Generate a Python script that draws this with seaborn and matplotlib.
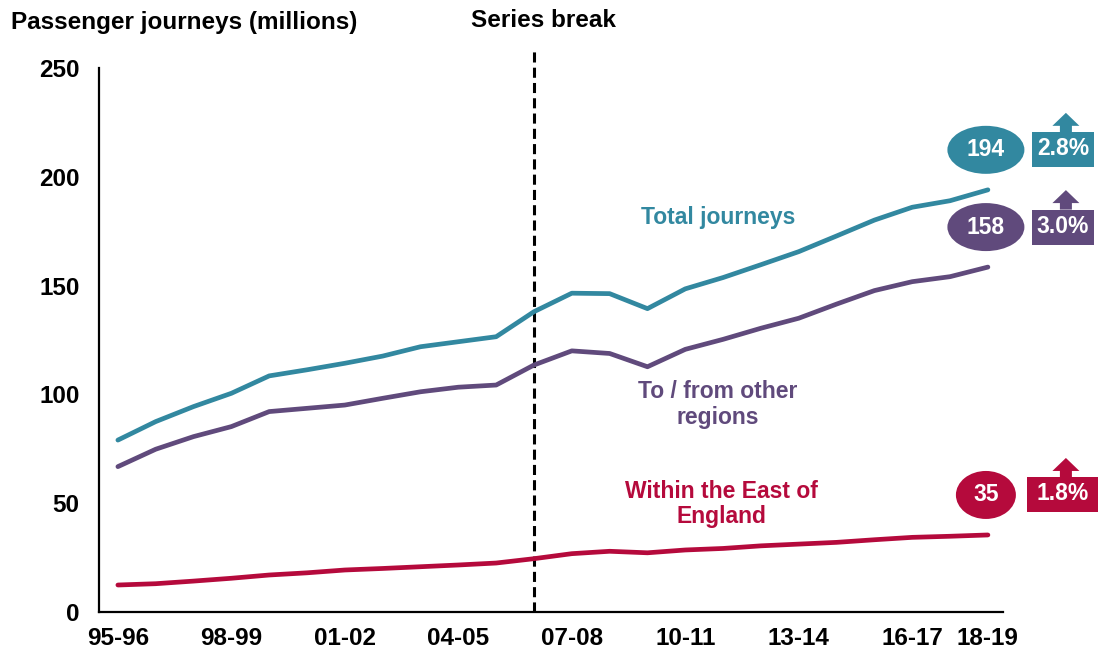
import matplotlib
matplotlib.use("Agg")
import matplotlib.pyplot as plt
import seaborn as sns
import pandas as pd
from matplotlib.patches import Ellipse, Rectangle, Polygon
from matplotlib.transforms import IdentityTransform

# --- data ---
years = ["95-96", "96-97", "97-98", "98-99", "99-00", "00-01", "01-02", "02-03",
         "03-04", "04-05", "05-06", "06-07", "07-08", "08-09", "09-10", "10-11",
         "11-12", "12-13", "13-14", "14-15", "15-16", "16-17", "17-18", "18-19"]
total_journeys = [79.0, 87.5, 94.4, 100.5, 108.5, 111.3, 114.3, 117.6, 121.9, 124.2,
                  126.5, 138.0, 146.5, 146.3, 139.4, 148.5, 153.7, 159.6, 165.6,
                  172.8, 180.1, 186.0, 189.0, 194.0]
other_regions = [66.8, 74.8, 80.6, 85.2, 92.1, 93.6, 95.1, 98.2, 101.2, 103.3,
                 104.3, 113.5, 120.0, 118.8, 112.7, 120.7, 125.3, 130.4, 135.0,
                 141.5, 147.7, 151.8, 154.1, 158.5]
within_east = [12.4, 13.0, 14.2, 15.5, 17.0, 18.0, 19.3, 20.0, 20.8, 21.6,
               22.5, 24.5, 26.8, 27.9, 27.2, 28.5, 29.2, 30.4, 31.2, 32.0,
               33.2, 34.3, 34.8, 35.4]
series_names = ["Total journeys", "To / from other\nregions", "Within the East of\nEngland"]
end_values = ["194", "158", "35"]
growth = ["2.8%", "3.0%", "1.8%"]
tick_years = ["95-96", "98-99", "01-02", "04-05", "07-08", "10-11", "13-14", "16-17", "18-19"]
series_break = "06-07"

colours = ["#3288A0", "#604A7C", "#B50A3C"]

sns.set_style("white")
plt.rcParams["font.family"] = ["Liberation Sans", "DejaVu Sans"]
plt.rcParams["font.weight"] = "bold"
plt.rcParams["text.color"] = "black"
plt.rcParams["xtick.color"] = "black"
plt.rcParams["ytick.color"] = "black"

df = pd.DataFrame({
    "pos": list(range(len(years))) * 3,
    "value": total_journeys + other_regions + within_east,
    "series": [series_names[0]] * len(years) + [series_names[1]] * len(years)
              + [series_names[2]] * len(years),
})

fig = plt.figure(figsize=(11.06, 6.53), dpi=100)
ax = fig.add_axes([0.0895, 0.0628, 0.8174, 0.8331])

sns.lineplot(data=df, x="pos", y="value", hue="series", palette=colours,
             hue_order=series_names, linewidth=3.4, legend=False, ax=ax,
             solid_capstyle="round")

ax.set_xlim(-0.5, 23.4)
ax.set_ylim(0, 250)
ax.set_yticks([0, 50, 100, 150, 200, 250])
ax.set_xticks([years.index(t) for t in tick_years])
ax.set_xticklabels(tick_years)
ax.tick_params(axis="y", length=5, width=1.3, pad=9, labelsize=17.5)
ax.tick_params(axis="x", length=0, pad=11, labelsize=17.5)
for lab in ax.get_xticklabels() + ax.get_yticklabels():
    lab.set_fontweight("bold")
ax.set_xlabel("")
ax.set_ylabel("")
sns.despine(ax=ax)
for s in ["left", "bottom"]:
    ax.spines[s].set_linewidth(1.6)
    ax.spines[s].set_color("black")

# series break marker
xb = years.index(series_break)
ax.plot([xb, xb], [0, 259], color="black", lw=2.2, linestyle=(0, (3.3, 1.7)),
        clip_on=False, zorder=1)
ax.text(xb + 0.25, 272, "Series break", ha="center", va="center",
        fontsize=17.5, fontweight="bold", clip_on=False)
fig.text(0.01, 0.966, "Passenger journeys (millions)", ha="left", va="center",
         fontsize=17.5, fontweight="bold")

# line labels
label_xy = [(15.87, 181.2), (15.85, 95.4), (15.95, 49.6)]
for name, (lx, ly), col in zip(series_names, label_xy, colours):
    ax.text(lx, ly, name, color=col, ha="center", va="center", fontsize=16.5,
            fontweight="bold", linespacing=1.15)

# end value bubbles and growth boxes
ident = IdentityTransform()
ell_w = [77, 77, 60]
box_w = [62, 62, 71]
series_vals = [total_journeys, other_regions, within_east]
for vals, col, num, pct, ew, bw in zip(series_vals, colours, end_values, growth, ell_w, box_w):
    px, py = ax.transData.transform((len(years) - 1, vals[-1]))
    cx, cy = px - 2, py + 40
    ax.add_patch(Ellipse((cx, cy), ew, 48, transform=ident, facecolor=col,
                         edgecolor="none", clip_on=False))
    ax.text(cx, cy, num, transform=ident, color="white", ha="center", va="center",
            fontsize=16.5, fontweight="bold", clip_on=False)
    bx = cx + 77
    ax.add_patch(Rectangle((bx - bw / 2, cy - 17.5), bw, 35, transform=ident,
                           facecolor=col, edgecolor="none", clip_on=False))
    ax.text(bx, cy + 1, pct, transform=ident, color="white", ha="center", va="center",
            fontsize=16.5, fontweight="bold", clip_on=False)
    top = cy + 17.5
    ax_ = bx + 3
    arrow = [(ax_ - 6, top), (ax_ + 6, top), (ax_ + 6, top + 6.5),
             (ax_ + 13.5, top + 6.5), (ax_, top + 19.5), (ax_ - 13.5, top + 6.5),
             (ax_ - 6, top + 6.5)]
    ax.add_patch(Polygon(arrow, closed=True, transform=ident, facecolor=col,
                         edgecolor="none", clip_on=False))

fig.savefig("out.png", dpi=100)
